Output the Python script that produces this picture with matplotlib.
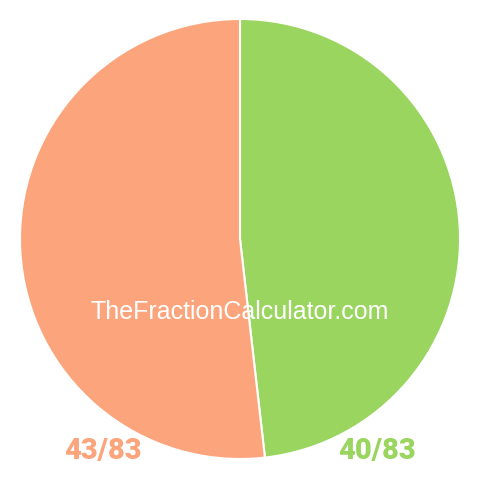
import matplotlib
matplotlib.use("Agg")
import matplotlib.pyplot as plt

# slice values (numerators over 83)
labels = ["40/83", "43/83"]
values = [40, 43]
colours = ["#99d55f", "#fca57c"]

fig = plt.figure(figsize=(4.8, 4.8), dpi=100, facecolor="white")
ax = fig.add_axes([0, 0, 1, 1])

ax.pie(values, colors=colours, startangle=90, counterclock=False,
       radius=220, center=(240, 241), frame=True,
       wedgeprops=dict(edgecolor="white", linewidth=1.5))
ax.set_xlim(0, 480)
ax.set_ylim(0, 480)
ax.set_aspect("equal")
ax.axis("off")

ax.text(240, 168, "TheFractionCalculator.com", color="white", fontsize=18,
        family="Liberation Sans", ha="center", va="center")

# fraction labels under the pie
ax.text(377, 29, labels[0], color=colours[0], fontsize=21, fontweight="heavy",
        family="Roboto", ha="center", va="center")
ax.text(103, 29, labels[1], color=colours[1], fontsize=21, fontweight="heavy",
        family="Roboto", ha="center", va="center")

fig.savefig("out.png", dpi=100, facecolor="white")
